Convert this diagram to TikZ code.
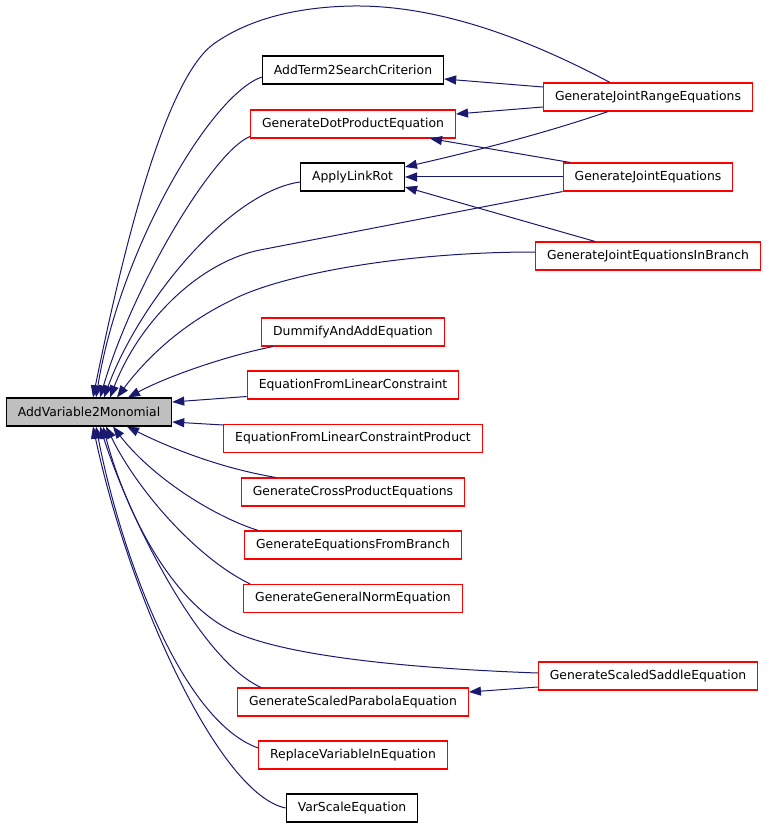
\documentclass[tikz,border=0pt]{standalone}
\usepackage{fontspec}
\setmainfont{DejaVu Sans}
\usetikzlibrary{arrows.meta}
\definecolor{edgeblue}{HTML}{191970}
\definecolor{rootgray}{HTML}{BFBFBF}
\tikzset{
	fn/.style = {draw=black, line width=1.1pt, minimum height=28pt, inner xsep=11.5pt,
		font=\fontsize{12.4}{14}\selectfont},
	fnred/.style = {fn, draw=red},
	fnroot/.style = {fn, fill=rootgray},
	call/.style = {draw=edgeblue, line width=1pt, -{Triangle[length=12pt, width=9pt]}}
}
\begin{document}
\begin{tikzpicture}[x=1pt, y=-1pt]
		\useasboundingbox (0, 0) rectangle (768, 829);
		% callers, left column and right column
		\node [fnroot] (av) at (89, 412) {AddVariable2Monomial};
		\node [fn] (term) at (353, 70) {AddTerm2SearchCriterion};
		\node [fnred] (dotp) at (353, 124) {GenerateDotProductEquation};
		\node [fn] (alr) at (352.5, 177) {ApplyLinkRot};
		\node [fnred] (jre) at (648, 97) {GenerateJointRangeEquations};
		\node [fnred] (je) at (648, 177) {GenerateJointEquations};
		\node [fnred] (jeib) at (648, 256) {GenerateJointEquationsInBranch};
		\node [fnred] (dummy) at (353, 332) {DummifyAndAddEquation};
		\node [fnred] (eflc) at (353, 385) {EquationFromLinearConstraint};
		\node [fnred] (eflcp) at (353, 438.5) {EquationFromLinearConstraintProduct};
		\node [fnred] (gcpe) at (353, 492) {GenerateCrossProductEquations};
		\node [fnred] (gefb) at (353, 545) {GenerateEquationsFromBranch};
		\node [fnred] (ggne) at (353, 598.5) {GenerateGeneralNormEquation};
		\node [fnred] (saddle) at (648, 676) {GenerateScaledSaddleEquation};
		\node [fnred] (parab) at (353, 702) {GenerateScaledParabolaEquation};
		\node [fnred] (repl) at (353, 755) {ReplaceVariableInEquation};
		\node [fn] (vscale) at (352, 808) {VarScaleEquation};
		% right column to middle column
		\draw [call] ([yshift=10pt]jre.west) -- ([yshift=-9pt]term.east);
		\draw [call] ([yshift=-10pt]jre.west) -- ([yshift=10pt]dotp.east);
		\draw [call] ([xshift=-40pt]jre.south) .. controls (540, 135) and (470, 152) .. ([yshift=10pt]alr.east);
		\draw [call] ([xshift=-78pt]je.north) -- ([xshift=77pt]dotp.south);
		\draw [call] (je.west) -- (alr.east);
		\draw [call] ([xshift=-53pt]jeib.north) -- ([yshift=-10pt]alr.east);
		\draw [call] ([yshift=-11pt]saddle.west) -- ([yshift=10pt]parab.east);
		% everything into the root
		\draw [call] ([xshift=-38pt]jre.north) .. controls (530, 40) and (440, 5) .. (353, 6)
			.. controls (290, 7) and (245, 22) .. (215, 43)
			.. controls (160, 80) and (115, 290) .. ([xshift=4pt]av.north);
		\draw [call] ([yshift=-7pt]term.west) .. controls (210, 95) and (120, 250) .. ([xshift=7pt]av.north);
		\draw [call] ([yshift=2pt]dotp.south west) .. controls (215, 150) and (135, 280) .. ([xshift=11pt]av.north);
		\draw [call] ([yshift=-5pt]alr.west) .. controls (230, 192) and (140, 300) .. ([xshift=15pt]av.north);
		\draw [call] (je.south west) -- (260, 250)
			.. controls (200, 262) and (140, 320) .. ([xshift=21pt]av.north);
		\draw [call] ([yshift=4pt]jeib.west) .. controls (400, 252) and (280, 275) .. (232, 300)
			.. controls (180, 325) and (145, 360) .. ([xshift=28pt]av.north);
		\draw [call] ([xshift=12pt]dummy.south west) .. controls (230, 355) and (170, 375) .. ([xshift=39pt]av.north);
		\draw [call] ([yshift=-11.5pt]eflc.west) -- ([yshift=10pt]av.east);
		\draw [call] ([yshift=13.5pt]eflcp.west) -- ([yshift=-10pt]av.east);
		\draw [call] ([xshift=35pt]gcpe.north west) .. controls (220, 468) and (170, 448) .. ([xshift=38pt]av.south);
		\draw [call] ([xshift=14pt]gefb.north west) .. controls (210, 515) and (150, 475) .. ([xshift=24pt]av.south);
		\draw [call] ([xshift=7pt]ggne.north west) .. controls (200, 560) and (140, 495) .. ([xshift=17pt]av.south);
		\draw [call] ([yshift=3pt]saddle.west) .. controls (400, 668) and (280, 655) .. (230, 630)
			.. controls (170, 600) and (125, 510) .. ([xshift=14pt]av.south);
		\draw [call] ([xshift=24pt]parab.north west) .. controls (200, 660) and (130, 520) .. ([xshift=11pt]av.south);
		\draw [call] ([yshift=7pt]repl.west) .. controls (180, 720) and (120, 550) .. ([xshift=7pt]av.south);
		\draw [call] (vscale.west) .. controls (220, 795) and (130, 600) .. ([xshift=4pt]av.south);
\end{tikzpicture}
\end{document}
